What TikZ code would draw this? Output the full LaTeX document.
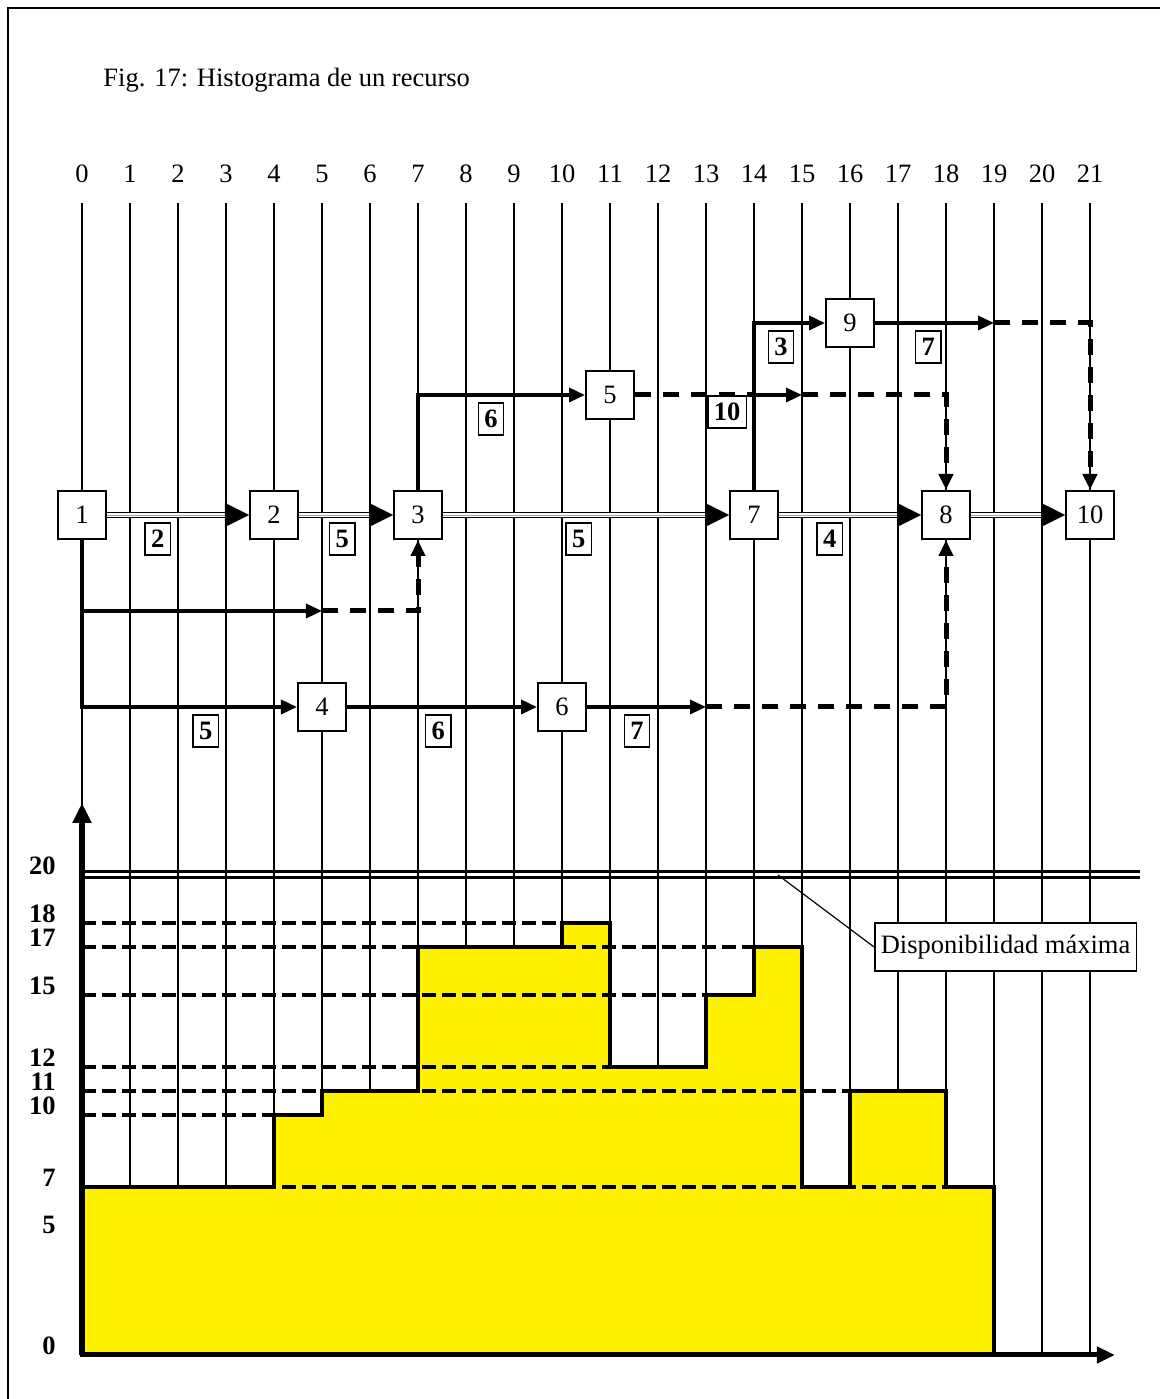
\documentclass[tikz,border=0pt]{standalone}
\usepackage{fontspec}
\setmainfont{Liberation Serif}
\usetikzlibrary{calc, arrows.meta}

\begin{document}
\begin{tikzpicture}[x=24pt, y=12pt,
		font=\fontsize{13.25}{16}\selectfont,
		grid/.style={line width=0.9pt},
		event/.style={draw, line width=1pt, fill=white, minimum size=24pt, inner sep=0pt},
		dur/.style={draw, line width=0.75pt, fill=white, font=\fontsize{13.25}{16}\selectfont\bfseries,
			minimum width=12pt, minimum height=16pt, inner xsep=3pt, inner ysep=0pt},
		crit/.style={double, line width=0.75pt, double distance=1.75pt, shorten >=11pt},
		crittip/.style={line width=0.01pt, -{Triangle[length=12pt, width=12pt]}},
		act/.style={line width=1.75pt, -{Triangle[length=8pt, width=7pt]}},
		actline/.style={line width=1.75pt},
		slack/.style={line width=2.5pt, dash pattern=on 8pt off 6pt, -{Triangle[length=8pt, width=7pt]}},
		slackline/.style={line width=2.5pt, dash pattern=on 8pt off 6pt},
		level/.style={line width=1.6pt, dash pattern=on 7pt off 3pt},
		ylab/.style={anchor=east, font=\fontsize{13.25}{16}\selectfont\bfseries}]
	\useasboundingbox (-1.7083,-1.8333) rectangle (22.4583,56.4583);
	\draw[line width=1pt] (-1.5417,-1.8333) -- (-1.5417,56.125) -- (22.4583,56.125);
	\node[anchor=west] (title) at (0.3,53.1) {Fig. 17: Histograma de un recurso};

	\coordinate (o) at (0,0);
	\draw[double, line width=1.5pt, double distance=1.5pt] (o |- 0,20) -- (22.04,20);
	\foreach \d in {0,...,21} {
		\node (t\d) at (\d,49.2) {\d};
		\draw[grid] (\d,0) -- (\d,48);
	}

	% histograma
	\filldraw[fill=yellow, line width=2pt] (0,0) -- (0,7) -- (4,7) -- (4,10) -- (5,10) -- (5,11) -- (7,11)
		-- (7,17) -- (10,17) -- (10,18) -- (11,18) -- (11,12) -- (13,12) -- (13,15) -- (14,15) -- (14,17)
		-- (15,17) -- (15,7) -- (16,7) -- (16,11) -- (18,11) -- (18,7) -- (19,7) -- (19,0) -- cycle;
	\foreach \v/\e in {18/10, 17/14, 15/13, 12/11, 11/16, 10/4, 7/18}
		\draw[level] (0,\v) -- (\e,\v);
	\foreach \v in {0,5,7,10,11,12,15,17,18,20}
		\node[ylab] (y\v) at (-0.4,\v+0.4) {\v};
	\draw[line width=3pt, -{Triangle[length=10pt, width=9pt]}] (o) -- (0,23);
	\draw[line width=2.5pt, -{Triangle[length=9pt, width=8pt]}] (o) -- (21.52,0);

	\node[draw, line width=0.75pt, fill=white, minimum height=24pt, inner xsep=3pt] (dmax) at (19.24,17) {Disponibilidad máxima};
	\coordinate (pmax) at (14.5,20);
	\draw[line width=0.6pt] (pmax) -- (dmax.west);

	% red
	\node[event] (n1) at (0,35) {1};
	\node[event] (n2) at (4,35) {2};
	\node[event] (n3) at (7,35) {3};
	\node[event] (n7) at (14,35) {7};
	\node[event] (n8) at (18,35) {8};
	\node[event] (n10) at (21,35) {10};
	\node[event] (n5) at (11,40) {5};
	\node[event] (n9) at (16,43) {9};
	\node[event] (n4) at (5,27) {4};
	\node[event] (n6) at (10,27) {6};

	\foreach \a/\b in {n1/n2, n2/n3, n3/n7, n7/n8, n8/n10} {
		\draw[crit] (\a) -- (\b);
		\draw[crittip] (\a) -- (\b);
	}

	\coordinate (b31) at (0,31);
	\coordinate (e31) at (5,31);
	\coordinate (e6) at (13,27);
	\coordinate (s5) at (14,40);
	\coordinate (e5) at (15,40);
	\coordinate (e9) at (19,43);

	\draw[act] (n1.south) |- (n4.west);
	\draw[act] (b31) -- (e31);
	\draw[slack] (e31) -| (n3.south);
	\draw[act] (n4) -- (n6);
	\draw[act] (n6) -- (e6);
	\draw[slack] (e6) -| (n8.south);
	\draw[act] (n3.north) |- (n5.west);
	\draw[slackline] (n5.east) -- (s5);
	\draw[act] (s5) -- (e5);
	\draw[slack] (e5) -| (n8.north);
	\draw[act] (n7.north) |- (n9.west);
	\draw[act] (n9) -- (e9);
	\draw[slack] (e9) -| (n10.north);

	\node[dur] (d12) at (1.58,34) {2};
	\node[dur] (d23) at (5.42,34) {5};
	\node[dur] (d37) at (10.35,34) {5};
	\node[dur] (d78) at (15.58,34) {4};
	\node[dur] (d14) at (2.58,26) {5};
	\node[dur] (d46) at (7.42,26) {6};
	\node[dur] (d68) at (11.56,26) {7};
	\node[dur] (d35) at (8.52,39) {6};
	\node[dur] (d58) at (13.44,39.3) {10};
	\node[dur] (d79) at (14.56,42) {3};
	\node[dur] (d910) at (17.63,42) {7};
\end{tikzpicture}
\end{document}
